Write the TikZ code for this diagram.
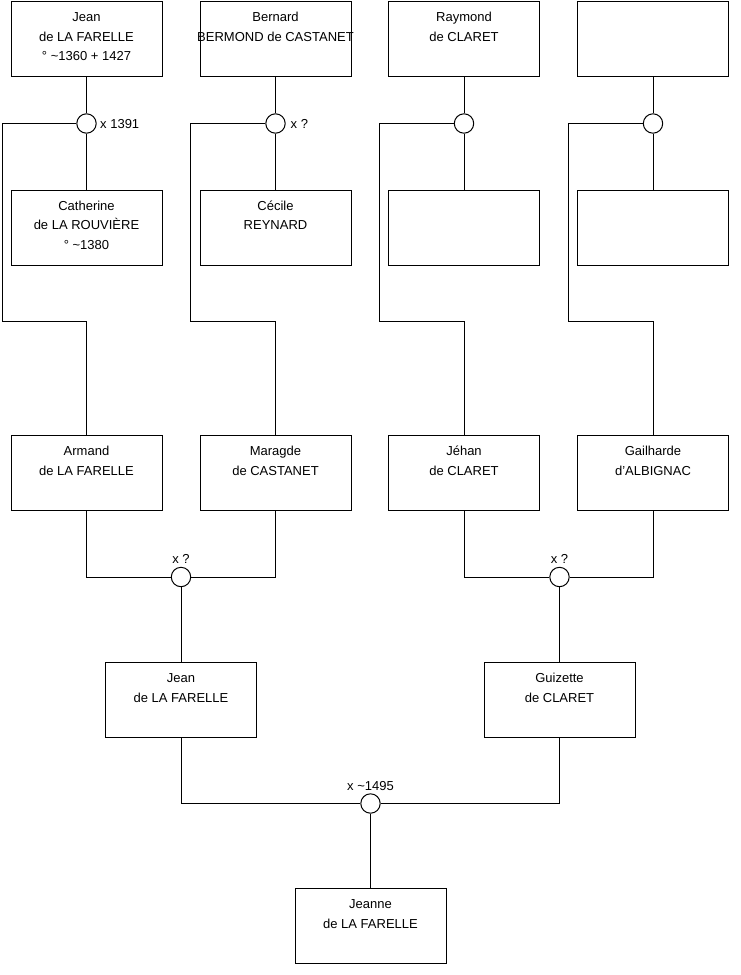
\documentclass[tikz,border=0pt]{standalone}
\usepackage{fontspec}
\setmainfont{Liberation Sans}
\newcommand{\boxtxt}[1]{\parbox[c][75pt][t]{151pt}{\fontsize{13pt}{19.5pt}\selectfont\rule{0pt}{20pt}\makebox[151pt][c]{\begin{tabular}[t]{@{}c@{}}#1\end{tabular}}\par}}
\tikzset{
  person/.style={draw=black, line width=1pt, inner sep=0pt, anchor=north, fill=white},
  union/.style={circle, draw=black, line width=1pt, fill=white, minimum size=19.4pt, inner sep=0pt},
  link/.style={draw=black, line width=1pt},
  lbl/.style={font=\fontsize{13pt}{15pt}\selectfont, inner sep=0pt}
}
\renewcommand{\arraystretch}{1}
\begin{document}
\begin{tikzpicture}[x=1pt,y=-1pt]
\useasboundingbox[fill=white] (0,0) rectangle (740,975);
% row 1
\node[person] (b1) at (86.5,1) {\boxtxt{Jean\\de LA FARELLE\\° \textasciitilde1360 + 1427}};
\node[person] (b2) at (275.5,1) {\boxtxt{Bernard\\BERMOND de CASTANET}};
\node[person] (b3) at (464,1) {\boxtxt{Raymond\\de CLARET}};
\node[person] (b4) at (653,1) {\boxtxt{}};
% row 2
\node[person] (b5) at (86.5,189.5) {\boxtxt{Catherine\\de LA ROUVIÈRE\\° \textasciitilde1380}};
\node[person] (b6) at (275.5,189.5) {\boxtxt{Cécile\\REYNARD}};
\node[person] (b7) at (464,189.5) {\boxtxt{}};
\node[person] (b8) at (653,189.5) {\boxtxt{}};
% row 3
\node[person] (b9) at (86.5,435) {\boxtxt{Armand\\de LA FARELLE}};
\node[person] (b10) at (275.5,435) {\boxtxt{Maragde\\de CASTANET}};
\node[person] (b11) at (464,435) {\boxtxt{Jéhan\\de CLARET}};
\node[person] (b12) at (653,435) {\boxtxt{Gailharde\\d'ALBIGNAC}};
% row 4
\node[person] (b13) at (181,662) {\boxtxt{Jean\\de LA FARELLE}};
\node[person] (b14) at (559.5,662) {\boxtxt{Guizette\\de CLARET}};
% row 5
\node[person] (b15) at (370.5,888) {\boxtxt{Jeanne\\de LA FARELLE}};
% unions
\node[union] (m1) at (86.5,123.5) {};
\node[union] (m2) at (275.5,123.5) {};
\node[union] (m3) at (464,123.5) {};
\node[union] (m4) at (653,123.5) {};
\node[union] (m5) at (181,577) {};
\node[union] (m6) at (559.5,577) {};
\node[union] (m7) at (370.5,803.5) {};
% corner coordinates
\coordinate (k1) at (2,321.5);
\coordinate (k2) at (190.5,321.5);
\coordinate (k3) at (379,321.5);
\coordinate (k4) at (568.5,321.5);
% connectors top groups
\draw[link] (b1.south) -- (m1.north) (m1.south) -- (b5.north);
\draw[link] (b2.south) -- (m2.north) (m2.south) -- (b6.north);
\draw[link] (b3.south) -- (m3.north) (m3.south) -- (b7.north);
\draw[link] (b4.south) -- (m4.north) (m4.south) -- (b8.north);
\draw[link] (m1.west) -| (k1) -| (b9.north);
\draw[link] (m2.west) -| (k2) -| (b10.north);
\draw[link] (m3.west) -| (k3) -| (b11.north);
\draw[link] (m4.west) -| (k4) -| (b12.north);
% row 3 unions
\draw[link] (b9.south) |- (m5.west);
\draw[link] (b10.south) |- (m5.east);
\draw[link] (b11.south) |- (m6.west);
\draw[link] (b12.south) |- (m6.east);
\draw[link] (m5.south) -- (b13.north);
\draw[link] (m6.south) -- (b14.north);
% row 4 union
\draw[link] (b13.south) |- (m7.west);
\draw[link] (b14.south) |- (m7.east);
\draw[link] (m7.south) -- (b15.north);
% labels
\node[lbl, anchor=base west] (l1) at (100,128) {x 1391};
\node[lbl, anchor=base west] (l2) at (290.5,128) {x ?};
\node[lbl, anchor=base] (l5) at (181,563.5) {x ?};
\node[lbl, anchor=base] (l6) at (559.5,563.5) {x ?};
\node[lbl, anchor=base] (l7) at (370.5,790) {x \textasciitilde1495};
\end{tikzpicture}
\end{document}
